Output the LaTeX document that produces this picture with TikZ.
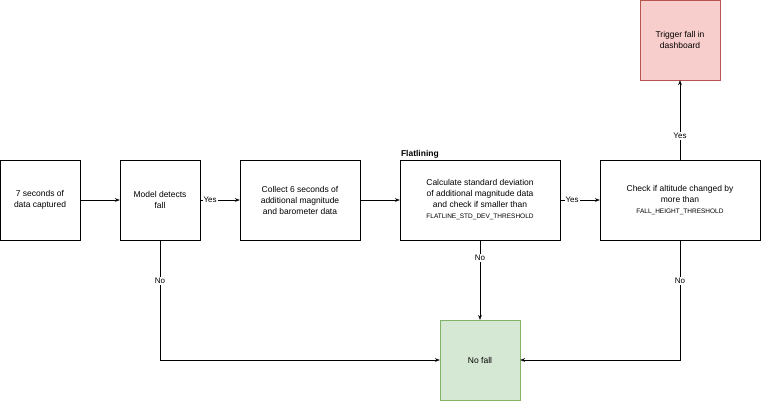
\documentclass[tikz,border=0pt]{standalone}
\usepackage{fontspec}
\setmainfont{Liberation Sans}
\usetikzlibrary{arrows.meta,positioning}
\definecolor{redfill}{HTML}{F8CECC}
\definecolor{redline}{HTML}{B85450}
\definecolor{greenfill}{HTML}{D5E8D4}
\definecolor{greenline}{HTML}{82B366}
\tikzset{
    >=Stealth,
    box/.style={draw,thin,rectangle,align=center,minimum height=80pt,font=\fontsize{8.5}{11}\selectfont},
    label/.style={font=\fontsize{8}{10}\selectfont,fill=white,inner sep=1pt},
    flow/.style={->,thin},
}
\begin{document}
\begin{tikzpicture}[x=1pt,y=-1pt]
    \useasboundingbox (0,0) rectangle (762,402);
    \node[box,minimum width=80pt]  (captured) at (40,200)  {7 seconds of\\data captured};
    \node[box,minimum width=80pt]  (model)    at (160,200) {Model detects\\fall};
    \node[box,minimum width=120pt] (collect)  at (300,200) {Collect 6 seconds of\\additional magnitude\\and barometer data};
    \node[box,minimum width=160pt] (stddev)   at (480,200) {Calculate standard deviation\\of additional magnitude data\\and check if smaller than\\{\fontsize{6.5}{8}\selectfont FLATLINE\_STD\_DEV\_THRESHOLD}};
    \node[box,minimum width=160pt] (altitude) at (680,200) {Check if altitude changed by\\more than\\{\fontsize{6.5}{8}\selectfont FALL\_HEIGHT\_THRESHOLD}};
    \node[box,minimum width=80pt,fill=redfill,draw=redline]     (trigger) at (680,40)  {Trigger fall in\\dashboard};
    \node[box,minimum width=80pt,fill=greenfill,draw=greenline] (nofall)  at (480,360) {No fall};
    \node[anchor=south west,inner sep=1pt,font=\fontsize{8.5}{10}\selectfont\bfseries] (flat) at (stddev.north west) {Flatlining};

    \draw[flow] (captured) -- (model);
    \draw[flow] (model) -- node[label,pos=0.25] {Yes} (collect);
    \draw[flow] (collect) -- (stddev);
    \draw[flow] (stddev) -- node[label,pos=0.3] {Yes} (altitude);
    \draw[flow] (altitude) -- node[label,pos=0.3] {Yes} (trigger);
    \draw[flow] (model) |- node[label,pos=0.17] {No} (nofall);
    \draw[flow] (stddev) -- node[label,pos=0.22] {No} (nofall);
    \draw[flow] (altitude) |- node[label,pos=0.17] {No} (nofall);
\end{tikzpicture}
\end{document}
